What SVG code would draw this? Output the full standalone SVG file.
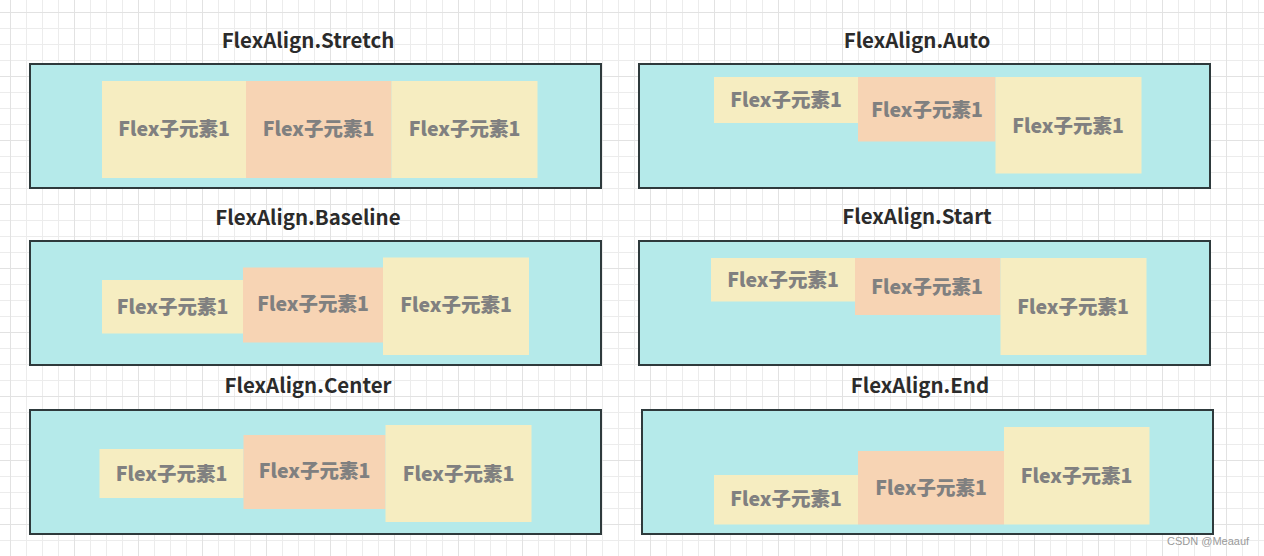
<svg xmlns="http://www.w3.org/2000/svg" width="1264" height="556" viewBox="0 0 1264 556">
<defs>
<pattern id="minor" patternUnits="userSpaceOnUse" x="10" y="12" width="16" height="16">
<path d="M0.5 0V16M0 0.5H16" stroke="#ececec" stroke-width="1" fill="none"/>
</pattern>
<pattern id="major" patternUnits="userSpaceOnUse" x="74" y="12" width="64" height="64">
<path d="M0.5 0V64M0 0.5H64" stroke="#e2e2e2" stroke-width="1" fill="none"/>
</pattern>
</defs>
<style>
.outer{fill:#b5eaea;stroke:#2e3a3c;stroke-width:2}
.y{fill:#f6edc1}
.o{fill:#f7d4b4}
.t{font-family:"Noto Sans CJK SC","Noto Sans",sans-serif;font-weight:900;font-size:19.5px;fill:#808080;text-anchor:middle;dominant-baseline:central}
.h{font-family:"Noto Sans CJK SC","Noto Sans",sans-serif;font-weight:bold;font-size:20.5px;fill:#2b2b2b;text-anchor:middle;dominant-baseline:central}
.w{font-family:"Liberation Sans",Arial,sans-serif;font-size:11px;fill:#9a9a9a}
</style>
<rect width="1264" height="556" fill="#ffffff"/>
<rect width="1264" height="556" fill="url(#minor)"/>
<rect width="1264" height="556" fill="url(#major)"/>

<g id="stretch">
<text class="h" x="308" y="39">FlexAlign.Stretch</text>
<rect class="outer" x="30" y="64" width="571" height="124"/>
<rect class="y" x="102" y="81" width="144" height="97"/>
<rect class="o" x="246" y="81" width="145.5" height="97"/>
<rect class="y" x="391.5" y="81" width="146" height="97"/>
<text class="t" x="174" y="127">Flex子元素1</text>
<text class="t" x="318.5" y="127">Flex子元素1</text>
<text class="t" x="464.5" y="127">Flex子元素1</text>
</g>

<g id="auto">
<text class="h" x="917" y="39">FlexAlign.Auto</text>
<rect class="outer" x="639" y="64" width="571" height="124"/>
<rect class="y" x="714" y="77" width="144" height="46"/>
<rect class="o" x="858" y="77" width="137.5" height="64.5"/>
<rect class="y" x="995.5" y="77" width="146" height="96.5"/>
<text class="t" x="786" y="98">Flex子元素1</text>
<text class="t" x="927" y="108">Flex子元素1</text>
<text class="t" x="1068" y="124">Flex子元素1</text>
</g>

<g id="baseline">
<text class="h" x="308" y="216">FlexAlign.Baseline</text>
<rect class="outer" x="30" y="241" width="571" height="124"/>
<rect class="y" x="102" y="280" width="141" height="53.5"/>
<rect class="o" x="243" y="267.5" width="140" height="75"/>
<rect class="y" x="383" y="257.5" width="146" height="97.5"/>
<text class="t" x="172.5" y="305">Flex子元素1</text>
<text class="t" x="313" y="302">Flex子元素1</text>
<text class="t" x="456" y="303">Flex子元素1</text>
</g>

<g id="start">
<text class="h" x="917" y="215">FlexAlign.Start</text>
<rect class="outer" x="639" y="241" width="571" height="124"/>
<rect class="y" x="711" y="258" width="144" height="43.5"/>
<rect class="o" x="855" y="258" width="145.5" height="57"/>
<rect class="y" x="1000.5" y="258" width="146" height="97"/>
<text class="t" x="783" y="278">Flex子元素1</text>
<text class="t" x="927" y="285">Flex子元素1</text>
<text class="t" x="1073" y="305">Flex子元素1</text>
</g>

<g id="center">
<text class="h" x="308" y="384">FlexAlign.Center</text>
<rect class="outer" x="30" y="410" width="571" height="124"/>
<rect class="y" x="99.5" y="449" width="144" height="49"/>
<rect class="o" x="243.5" y="435" width="142" height="74"/>
<rect class="y" x="385.5" y="425" width="146" height="97"/>
<text class="t" x="171.5" y="472">Flex子元素1</text>
<text class="t" x="314.5" y="469">Flex子元素1</text>
<text class="t" x="458.5" y="472">Flex子元素1</text>
</g>

<g id="end">
<text class="h" x="920" y="384">FlexAlign.End</text>
<rect class="outer" x="642" y="410" width="571" height="124"/>
<rect class="y" x="714" y="475" width="144" height="49.5"/>
<rect class="o" x="858" y="451" width="146" height="73.5"/>
<rect class="y" x="1004" y="427" width="145.5" height="97.5"/>
<text class="t" x="786" y="497">Flex子元素1</text>
<text class="t" x="931" y="486">Flex子元素1</text>
<text class="t" x="1076.5" y="474">Flex子元素1</text>
</g>

<g id="connectors"></g>

<text class="w" x="1167" y="545">CSDN @Meaauf</text>
</svg>
